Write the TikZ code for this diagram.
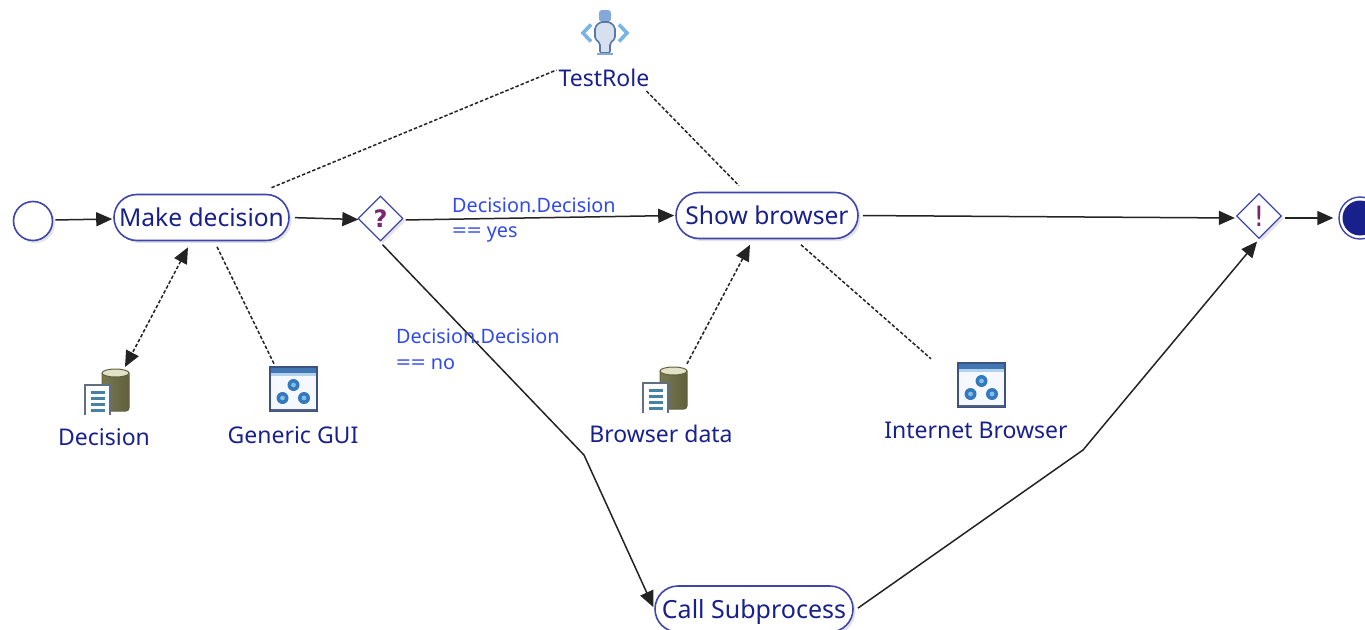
\documentclass[tikz,border=0pt]{standalone}
\usepackage{graphicx}
\usepackage{fontspec}
\setmainfont{Noto Sans}
\newfontfamily\gatefont{DejaVu Sans}
\usetikzlibrary{arrows.meta,shapes.geometric,shadows}
\definecolor{navy}{RGB}{24,32,140}
\definecolor{edgeblue}{RGB}{62,70,172}
\definecolor{labelblue}{RGB}{48,72,240}
\definecolor{qmark}{RGB}{120,40,110}
\definecolor{wire}{RGB}{35,35,35}
\definecolor{canlight}{RGB}{226,226,200}
\definecolor{canmid}{RGB}{176,176,130}
\definecolor{candark}{RGB}{96,96,62}
\definecolor{docframe}{RGB}{96,112,130}
\definecolor{docline}{RGB}{70,130,165}
\definecolor{guititle}{RGB}{66,118,178}
\definecolor{guilight}{RGB}{176,210,236}
\definecolor{guiframe}{RGB}{62,82,128}
\definecolor{guifill}{RGB}{246,248,255}
\definecolor{guidot}{RGB}{52,120,190}
\definecolor{guidotin}{RGB}{130,190,230}
\definecolor{chev}{RGB}{120,180,228}
\definecolor{rolehead}{RGB}{132,168,216}
\definecolor{roleedge}{RGB}{88,120,168}
\definecolor{rolefill}{RGB}{214,224,238}
\newcommand{\tasklabel}[1]{\raisebox{-9pt}[0pt][0pt]{#1}}
\tikzset{
  x=1pt,y=-1pt,
  softshadow/.style={drop shadow={shadow xshift=2.5pt,shadow yshift=-2.5pt,fill=black!18,opacity=.6}},
  taskbox/.style={draw=edgeblue,line width=1.6pt,fill=white,rounded corners=23pt,inner sep=0pt,text=navy,font=\fontsize{24.6}{28}\selectfont,softshadow},
  gate/.style={diamond,aspect=1,draw=edgeblue,line width=1.3pt,fill=white,inner sep=0pt,minimum size=45pt,softshadow,text=qmark},
  startev/.style={circle,draw=edgeblue,line width=1.6pt,fill=white,minimum size=39pt,inner sep=0pt,softshadow},
  endev/.style={circle,draw=edgeblue,line width=1.4pt,fill=white,minimum size=42pt,inner sep=0pt},
  caption/.style={text=navy,inner sep=0pt,font=\fontsize{23}{27}\selectfont},
  condlabel/.style={text=labelblue,inner sep=0pt,anchor=west,font=\fontsize{19.8}{24}\selectfont},
  iconspot/.style={inner sep=0pt,minimum width=44pt,minimum height=46pt},
  flow/.style={draw=wire,line width=1.5pt,-{Triangle[length=16pt,width=14pt]}},
  assoc/.style={draw=wire,line width=1.5pt,dash pattern=on 3.5pt off 2pt},
  dataflow/.style={assoc,-{Triangle[length=16pt,width=14pt]}},
  databoth/.style={assoc,{Triangle[length=16pt,width=14pt]}-{Triangle[length=16pt,width=14pt]}},
  dbicon/.pic={
    \shade[left color=candark!70!canmid,middle color=canlight,right color=candark,rounded corners=3pt]
      (-5,-19) rectangle (22,19);
    \fill[canlight] (-5,-19) arc[start angle=180,end angle=360,x radius=13.5,y radius=-4] arc[start angle=0,end angle=180,x radius=13.5,y radius=-4];
    \draw[candark,line width=1pt] (-5,-19) arc[start angle=180,end angle=360,x radius=13.5,y radius=-4] arc[start angle=0,end angle=180,x radius=13.5,y radius=-4];
    \draw[candark,line width=1pt,rounded corners=3pt] (-5,-19) -- (-5,19) -- (22,19) -- (22,-19);
    \fill[white] (-22,-7) rectangle (3,23);
    \draw[docframe,line width=1.8pt] (-22,23) -- (-22,-7) -- (3,-7) -- (3,23);
    \foreach \yy in {-1,5,11,17}{\fill[docline] (-16,\yy) rectangle (-2,\yy+3);}
  },
  guiicon/.pic={
    \fill[guifill] (-23,-22) rectangle (24,22);
    \fill[guititle] (-23,-22) rectangle (24,-16);
    \fill[guilight] (-23,-16) rectangle (24,-13);
    \draw[guiframe,line width=1.3pt] (-23,-22) rectangle (24,22);
    \draw[guiframe!70!gray,line width=2.4pt] (-22,20.8) -- (23,20.8);
    \foreach \px/\py in {0.5/-4,-10.5/9,11/9}{
      \fill[guidot] (\px,\py) circle (6);
      \fill[guidotin] (\px,\py) circle (2.4);
    }
  },
  roleicon/.pic={
    \draw[chev,line width=3.6pt] (-14,-8.5) -- (-22,0) -- (-14,8.5);
    \draw[chev,line width=3.6pt] (14,-8.5) -- (22,0) -- (14,8.5);
    \fill[rolehead,rounded corners=3pt] (-6,-23) rectangle (6,-11);
    \filldraw[draw=roleedge,fill=rolefill,line width=1.6pt,rounded corners=2pt]
      (-5,-11) -- (5,-11) -- (10,-6) -- (10,6) -- (5,10) -- (5,20) -- (-5,20) -- (-5,10) -- (-10,6) -- (-10,-6) -- cycle;
    \fill[rolehead] (-8,20) rectangle (8,22);
  },
}
\begin{document}
\begin{tikzpicture}
\useasboundingbox (0,0) rectangle (1365,629);

% flow objects
\node[startev] (start) at (33,221) {};
\node[taskbox,minimum width=175pt,minimum height=46pt] (make) at (201.5,217.5) {\tasklabel{Make decision}};
\node[gate,font=\gatefont\fontsize{24}{28}\selectfont\bfseries] (ask) at (380.5,218.5) {?};
\node[taskbox,minimum width=182pt,minimum height=46pt] (show) at (767,215.5) {\tasklabel{Show browser}};
\node[gate,font=\gatefont\fontsize{28}{30}\selectfont] (merge) at (1259,216) {!};
\node[endev] (finish) at (1360,218) {};
\fill[navy] (finish) circle (17.5);
\node[taskbox,minimum width=198pt,minimum height=46pt,font=\fontsize{25}{28}\selectfont] (call) at (754,609) {\tasklabel{Call Subprocess}};

% resources
\node[iconspot] (decdb) at (107,392) {};
\pic at (decdb) {dbicon};
\node[caption] (decdbt) at (104,437) {Decision};
\node[iconspot] (gui) at (293,389) {};
\pic at (gui) {guiicon};
\node[caption] (guit) at (293,435) {Generic GUI};
\node[iconspot] (brdb) at (665,390) {};
\pic at (brdb) {dbicon};
\node[caption] (brdbt) at (661,434) {Browser data};
\node[iconspot] (inet) at (981,385) {};
\pic at (inet) {guiicon};
\node[caption] (inett) at (976,430) {Internet Browser};
\node[iconspot] (person) at (605,33) {};
\pic at (person) {roleicon};
\node[caption] (role) at (604,78) {TestRole};

% route bends
\coordinate (bendno) at (584,455);
\coordinate (bendout) at (1083,450);

% sequence flows
\draw[flow,shorten <=2pt,shorten >=1pt] ([shift={(0,-1)}]start.east) -- ([shift={(0,1.5)}]make.west);
\draw[flow,shorten <=5pt,shorten >=-1pt] (make.east) -- ([shift={(0,1)}]ask.west);
\draw[flow,shorten <=2pt,shorten >=1pt] ([shift={(0,1.5)}]ask.east) -- (show.west);
\draw[flow,shorten <=4pt,shorten >=1pt] (show.east) -- ([shift={(0,2)}]merge.west);
\draw[flow,shorten <=3pt,shorten >=5pt] ([shift={(0,2)}]merge.east) -- (finish.west);
\draw[flow,shorten >=2pt] ([shift={(2,3)}]ask.south) -- (bendno) -- (call.west);
\draw[flow,shorten <=5pt,shorten >=3pt] ([shift={(0,2)}]call.east) -- (bendout) -- (merge.south);

% associations
\draw[assoc] ([shift={(70,-6)}]make.north) -- ([shift={(-2,-8)}]role.west);
\draw[assoc] ([shift={(-3,4)}]role.south east) -- ([shift={(-28,-6)}]show.north);
\draw[databoth] ([shift={(-13.5,6)}]make.south) -- ([shift={(18,-25)}]decdb.center);
\draw[assoc] ([shift={(15.5,5.5)}]make.south) -- ([shift={(-19,-2)}]gui.north);
\draw[dataflow] ([shift={(22,-3)}]brdb.north) -- ([shift={(-17,5.5)}]show.south);
\draw[assoc] ([shift={(34,5.5)}]show.south) -- ([shift={(-50,-3)}]inet.north);

% condition labels
\node[condlabel] (yes1) at (452,205) {Decision.Decision};
\node[condlabel] (yes2) at (452,234) {\scalebox{1.3}[1]{==} yes};
\node[condlabel] (no1) at (396,336) {Decision.Decision};
\node[condlabel] (no2) at (396,364) {\scalebox{1.3}[1]{==} no};
\end{tikzpicture}
\end{document}
